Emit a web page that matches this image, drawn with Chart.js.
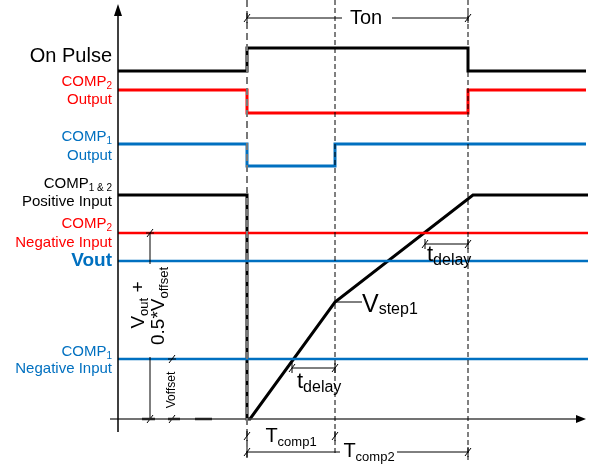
<!DOCTYPE html>
<html>
<head>
<meta charset="utf-8">
<script src="https://cdn.jsdelivr.net/npm/chart.js@4.4.1/dist/chart.umd.min.js"></script>
<style>html,body{margin:0;padding:0;background:#fff;}</style>
</head>
<body>
<canvas id="myChart" width="597" height="466"></canvas>
<script>
'use strict'

// time runs left to right (0 = vertical axis), level runs upward (0 = bottom axis)
const tOn = 129;      // pulse start
const tComp1 = 217;   // comp1 trips (end of Tcomp1)
const tOff = 350;     // pulse end (Ton)
const tEnd = 470;

const onPulseT = [0, tOn, tOff, 468];
const onPulseV = [348, 371, 348, 348];
const comp2OutT = [0, tOn, tOff, 468];
const comp2OutV = [329, 306, 329, 329];
const comp1OutT = [0, tOn, tComp1, 468];
const comp1OutV = [275, 253, 275, 275];
const posInT = [0, tOn, tOn, 132, tComp1, 355, tEnd];
const posInV = [224, 224, 0, 0, 117, 224, 224];
const comp2NegV = 186;
const voutV = 158;
const comp1NegV = 60;
const dashT = [tOn, tComp1, tOff];
const dashEnd = [-41, -36, -41];

const RED = '#ff0000';
const BLUE = '#0070c0';
const FONT = '"Liberation Sans", Arial, sans-serif';

let diagram;

const pts = (t, v) => t.map((x, i) => ({x: x, y: v[i]}));

const mkLine = (label, data, color, width, extra) => Object.assign({
  label: label,
  data: data,
  borderColor: color,
  borderWidth: width,
  pointRadius: 0,
  fill: false,
  tension: 0,
  clip: false
}, extra || {});

// text + dimension marks
const notes = {
  id: 'notes',
  afterDatasetsDraw(chart) {
    const ctx = chart.ctx;
    const sx = chart.scales.x, sy = chart.scales.y;
    const px = v => sx.getPixelForValue(v);
    const py = v => sy.getPixelForValue(v);

    const seg = (x1, y1, x2, y2, color, w) => {
      ctx.save();
      ctx.strokeStyle = color || '#000';
      ctx.lineWidth = w || 1;
      ctx.beginPath();
      ctx.moveTo(px(x1), py(y1));
      ctx.lineTo(px(x2), py(y2));
      ctx.stroke();
      ctx.restore();
    };
    const tick = (x, y, vert) => {
      const X = px(x), Y = py(y);
      ctx.save();
      ctx.strokeStyle = '#000';
      ctx.lineWidth = 1;
      ctx.beginPath();
      ctx.moveTo(X - 3, Y + 4);
      ctx.lineTo(X + 3, Y - 4);
      if (vert) { ctx.moveTo(X - 4, Y); ctx.lineTo(X + 4, Y); }
      else { ctx.moveTo(X, Y - 5); ctx.lineTo(X, Y + 5); }
      ctx.stroke();
      ctx.restore();
    };
    const tri = (x1, y1, x2, y2, x3, y3) => {
      ctx.save();
      ctx.fillStyle = '#000';
      ctx.beginPath();
      ctx.moveTo(x1, y1);
      ctx.lineTo(x2, y2);
      ctx.lineTo(x3, y3);
      ctx.closePath();
      ctx.fill();
      ctx.restore();
    };
    // parts: [text, size, dy, bold]
    const rich = (parts, x, y, align, color, rot) => {
      ctx.save();
      ctx.fillStyle = color || '#000';
      ctx.textBaseline = 'alphabetic';
      ctx.textAlign = 'left';
      let w = 0;
      parts.forEach(p => {
        ctx.font = (p[3] ? 'bold ' : '') + p[1] + 'px ' + FONT;
        w += ctx.measureText(p[0]).width;
      });
      ctx.translate(px(x), py(y));
      if (rot) ctx.rotate(rot);
      let cx = align === 'right' ? -w : align === 'center' ? -w / 2 : 0;
      parts.forEach(p => {
        ctx.font = (p[3] ? 'bold ' : '') + p[1] + 'px ' + FONT;
        ctx.fillText(p[0], cx, p[2] || 0);
        cx += ctx.measureText(p[0]).width;
      });
      ctx.restore();
    };

    // axis arrow heads
    tri(px(0), py(415), px(0) - 4, py(403), px(0) + 4, py(403));
    tri(px(468), py(0), px(458), py(0) - 4, px(458), py(0) + 4);

    // left labels
    rich([['On Pulse', 20]], -6, 357, 'right');
    rich([['COMP', 15], ['2', 10, 3]], -6, 333, 'right', RED);
    rich([['Output', 15]], -6, 315, 'right', RED);
    rich([['COMP', 15], ['1', 10, 3]], -6, 278, 'right', BLUE);
    rich([['Output', 15]], -6, 259, 'right', BLUE);
    rich([['COMP', 15], ['1 & 2', 10, 3]], -6, 231, 'right');
    rich([['Positive Input', 15]], -6, 213, 'right');
    rich([['COMP', 15], ['2', 10, 3]], -6, 191, 'right', RED);
    rich([['Negative Input', 15]], -6, 172, 'right', RED);
    rich([['Vout', 19, 0, true]], -6, 153, 'right', BLUE);
    rich([['COMP', 15], ['1', 10, 3]], -6, 63, 'right', BLUE);
    rich([['Negative Input', 15]], -6, 46, 'right', BLUE);

    // Ton
    seg(tOn, 401, 224, 401);
    seg(274, 401, tOff, 401);
    tick(tOn, 401); tick(tOff, 401);
    rich([['Ton', 20]], 248, 395, 'center');

    // Tcomp1 / Tcomp2
    tick(tOn, -17); tick(tComp1, -17);
    rich([['T', 20], ['comp1', 13, 4]], 173, -23, 'center');
    seg(tOn, -33, 222, -33);
    seg(279, -33, tOff, -33);
    tick(tOn, -33); tick(tOff, -33);
    rich([['T', 20], ['comp2', 13, 4]], 251, -38, 'center');

    // t_delay marks
    seg(174, comp1NegV - 9, tComp1, comp1NegV - 9);
    tick(174, comp1NegV - 9); tick(tComp1, comp1NegV - 9);
    rich([['t', 22], ['delay', 16, 4]], 179, 31, 'left');
    seg(307, comp2NegV - 11, tOff, comp2NegV - 11);
    tick(307, comp2NegV - 11); tick(tOff, comp2NegV - 11);
    rich([['t', 22], ['delay', 16, 4]], 309, 158, 'left');

    // Vstep1
    seg(tComp1, 117, 244, 117);
    rich([['V', 25], ['step1', 16, 2]], 244, 107, 'left');

    // Vout + 0.5*Voffset dimension
    seg(32, comp2NegV, 32, 155);
    seg(32, 62, 32, 0);
    tick(32, comp2NegV, true); tick(32, 0, true);
    rich([['V', 19], ['out', 13, 4], [' +', 19]], 26, 114, 'center', '#000', -Math.PI / 2);
    rich([['0.5*V', 19], ['offset', 13, 4]], 46, 113, 'center', '#000', -Math.PI / 2);

    // Voffset dimension
    tick(54, comp1NegV, true); tick(54, 0, true);
    rich([['Voffset', 12]], 57, 29, 'center', '#000', -Math.PI / 2);

    // dark bits on the bottom axis
    seg(24, 0, 37, 0, '#222', 2.5);
    seg(50, 0, 62, 0, '#222', 2.5);
    seg(77, 0, 94, 0, '#222', 2.5);
  }
};

const DocumentReady = () => {
  const canvas = document.getElementById('myChart');

  const dashSets = dashT.map((t, i) => mkLine('dash' + i,
    [{x: t, y: 419}, {x: t, y: dashEnd[i]}],
    i === 0 ? '#777' : '#000', i === 0 ? 2 : 1,
    {borderDash: i === 0 ? [7, 4] : [5, 3]}));

  const datasets = dashSets.concat([
    mkLine('yAxis', [{x: 0, y: -13}, {x: 0, y: 410}], '#000', 1.5),
    mkLine('xAxis', [{x: -8, y: 0}, {x: 460, y: 0}], '#444', 1.5),
    mkLine('comp2Neg', [{x: 0, y: comp2NegV}, {x: tEnd, y: comp2NegV}], RED, 2.5),
    mkLine('vout', [{x: 0, y: voutV}, {x: tEnd, y: voutV}], BLUE, 2.5),
    mkLine('comp1Neg', [{x: 0, y: comp1NegV}, {x: tEnd, y: comp1NegV}], BLUE, 2.5),
    mkLine('onPulse', pts(onPulseT, onPulseV), '#000', 3, {stepped: 'before'}),
    mkLine('comp2Out', pts(comp2OutT, comp2OutV), RED, 3, {stepped: 'before'}),
    mkLine('comp1Out', pts(comp1OutT, comp1OutV), BLUE, 3, {stepped: 'before'}),
    mkLine('posIn', pts(posInT, posInV), '#000', 3)
  ]);

  diagram = new Chart(canvas, {
    type: 'line',
    data: {datasets: datasets},
    options: {
      responsive: false,
      animation: false,
      events: [],
      layout: {padding: 0},
      plugins: {legend: {display: false}, tooltip: {enabled: false}},
      scales: {
        x: {type: 'linear', min: -118, max: 479, display: false},
        y: {type: 'linear', min: -47, max: 419, display: false}
      }
    },
    plugins: [notes]
  });
}

document.addEventListener("DOMContentLoaded", DocumentReady);
</script>
</body>
</html>
